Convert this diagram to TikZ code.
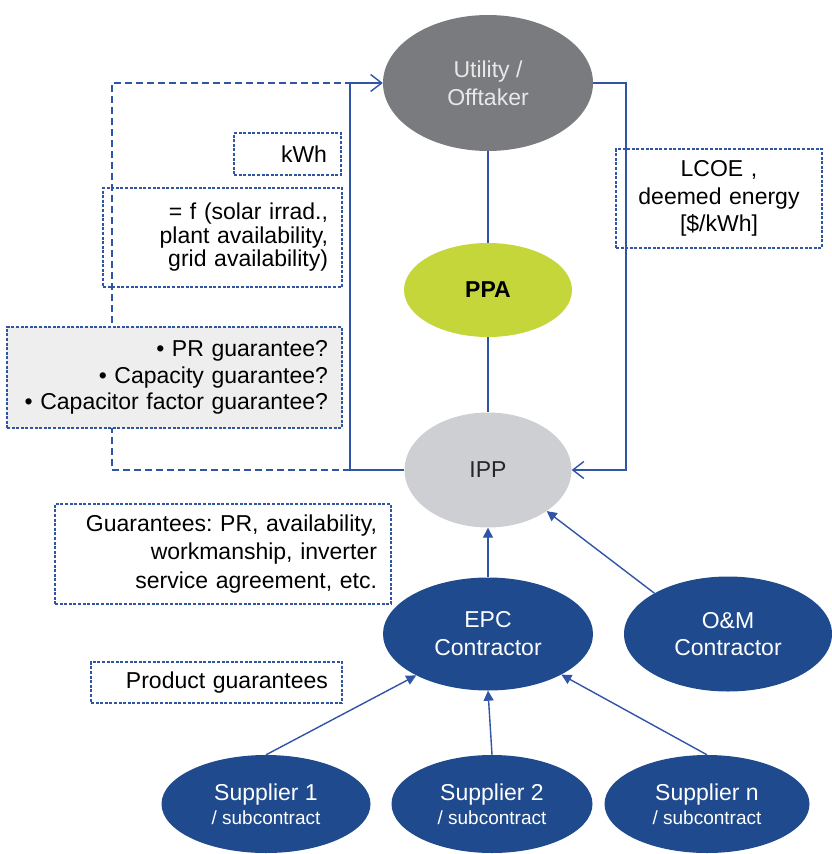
\documentclass[tikz,border=0pt]{standalone}
\usepackage{fontspec}
\setmainfont{Liberation Sans}
\usetikzlibrary{shapes.geometric,arrows.meta}
\definecolor{dblue}{RGB}{31,74,142}
\definecolor{lblue}{RGB}{48,84,166}
\definecolor{ugray}{RGB}{122,123,127}
\definecolor{utext}{RGB}{232,232,232}
\definecolor{ppagreen}{RGB}{196,214,58}
\definecolor{ippgray}{RGB}{206,207,210}
\definecolor{boxfill}{RGB}{238,238,238}
\frenchspacing
\begin{document}
\begin{tikzpicture}[x=1pt,y=-1pt,
  every node/.style={font=\fontsize{23}{27}\selectfont},
  ell/.style={ellipse, inner sep=0pt, align=center},
  darkell/.style={ell, fill=dblue, text=white},
  conn/.style={draw=lblue, line width=1.4pt},
  openarr/.style={conn, -{Straight Barb[length=11pt,width=17pt,line width=1.4pt]}},
  fillarr/.style={conn, -{Triangle[length=10pt,width=10pt]}},
  dline/.style={draw=lblue, line width=1.4pt, dash pattern=on 7pt off 4pt},
  dbox/.style={draw=lblue, line width=1.1pt, dash pattern=on 3pt off 1.6pt, inner xsep=14pt, inner ysep=0pt, align=right},
]
\useasboundingbox (0,0) rectangle (832,854);

% ellipses
\node[ell, fill=ugray, text=utext, minimum width=210pt, minimum height=136pt,
      font=\fontsize{23}{28}\selectfont] (util) at (488,83) {Utility /\\Offtaker};
\node[ell, fill=ppagreen, minimum width=168pt, minimum height=94pt,
      font=\fontsize{23}{27}\selectfont\bfseries] (ppa) at (488,290) {PPA};
\node[ell, fill=ippgray, text=black!85, minimum width=167pt, minimum height=115pt] (ipp) at (488,470) {IPP};
\node[darkell, minimum width=210pt, minimum height=113pt,
      font=\fontsize{23}{28}\selectfont] (epc) at (488,634) {EPC\\Contractor};
\node[darkell, minimum width=208pt, minimum height=115pt,
      font=\fontsize{23}{27}\selectfont] (om) at (728,634) {O\&M\\Contractor};
\node[darkell, minimum width=209pt, minimum height=98pt] (s1) at (266,804)
  {Supplier 1\\[-3pt]{\fontsize{19}{22}\selectfont / subcontract}};
\node[darkell, minimum width=201pt, minimum height=98pt] (s2) at (492,804)
  {Supplier 2\\[-3pt]{\fontsize{19}{22}\selectfont / subcontract}};
\node[darkell, minimum width=205pt, minimum height=98pt] (sn) at (707,804)
  {Supplier n\\[-3pt]{\fontsize{19}{22}\selectfont / subcontract}};

% connector corners
\coordinate (lx) at (350,470);
\coordinate (dl) at (112,470);
\coordinate (rx) at (626,470);

% dashed feedback line (behind boxes)
\draw[dline] (lx) -- (dl) |- (lx |- util.west);

% boxes
\node[dbox, text width=79pt, minimum height=42pt] (kwh) at (287.5,154) {kWh};
\node[dbox, text width=211pt, minimum height=99pt, font=\fontsize{23}{23.5}\selectfont] (fbox) at (222.5,237.5)
  {= f (solar irrad.,\\plant availability,\\grid availability)};
\node[dbox, fill=boxfill, text width=307pt, minimum height=101pt, font=\fontsize{23}{26.7}\selectfont] (pr) at (174.5,377.5)
  {\mbox{\textbullet\ PR guarantee?}\\\mbox{\textbullet\ Capacity guarantee?}\\\mbox{\textbullet\ Capacitor factor guarantee?}};
\node[dbox, align=center, inner xsep=0pt, text width=206pt, minimum height=99pt, font=\fontsize{23}{27.5}\selectfont] (lcoe) at (719,198.5)
  {LCOE ,\\deemed energy\\{[}\$/kWh{]}};
\node[dbox, text width=308pt, minimum height=100pt, font=\fontsize{23}{28.5}\selectfont] (guar) at (223,554)
  {\mbox{Guarantees: PR, availability,}\\workmanship, inverter\\service agreement, etc.};
\node[dbox, text width=223pt, minimum height=41pt] (prod) at (216.5,682.5) {Product guarantees};

% solid connectors
\draw[openarr] (ipp.west) -- (lx) |- (util.west);
\draw[openarr] (util.east) -| (rx) -- (ipp.east);
\draw[conn] (util) -- (ppa);
\draw[conn] (ppa) -- (ipp);
\draw[fillarr] (epc.north) -- (ipp.south);
\draw[fillarr] (om.151) -- (ipp.-35);
\draw[fillarr] (s1.north) -- (epc.210);
\draw[fillarr] (s2.north) -- (epc.south);
\draw[fillarr] (sn.north) -- (epc.-29);
\end{tikzpicture}
\end{document}
